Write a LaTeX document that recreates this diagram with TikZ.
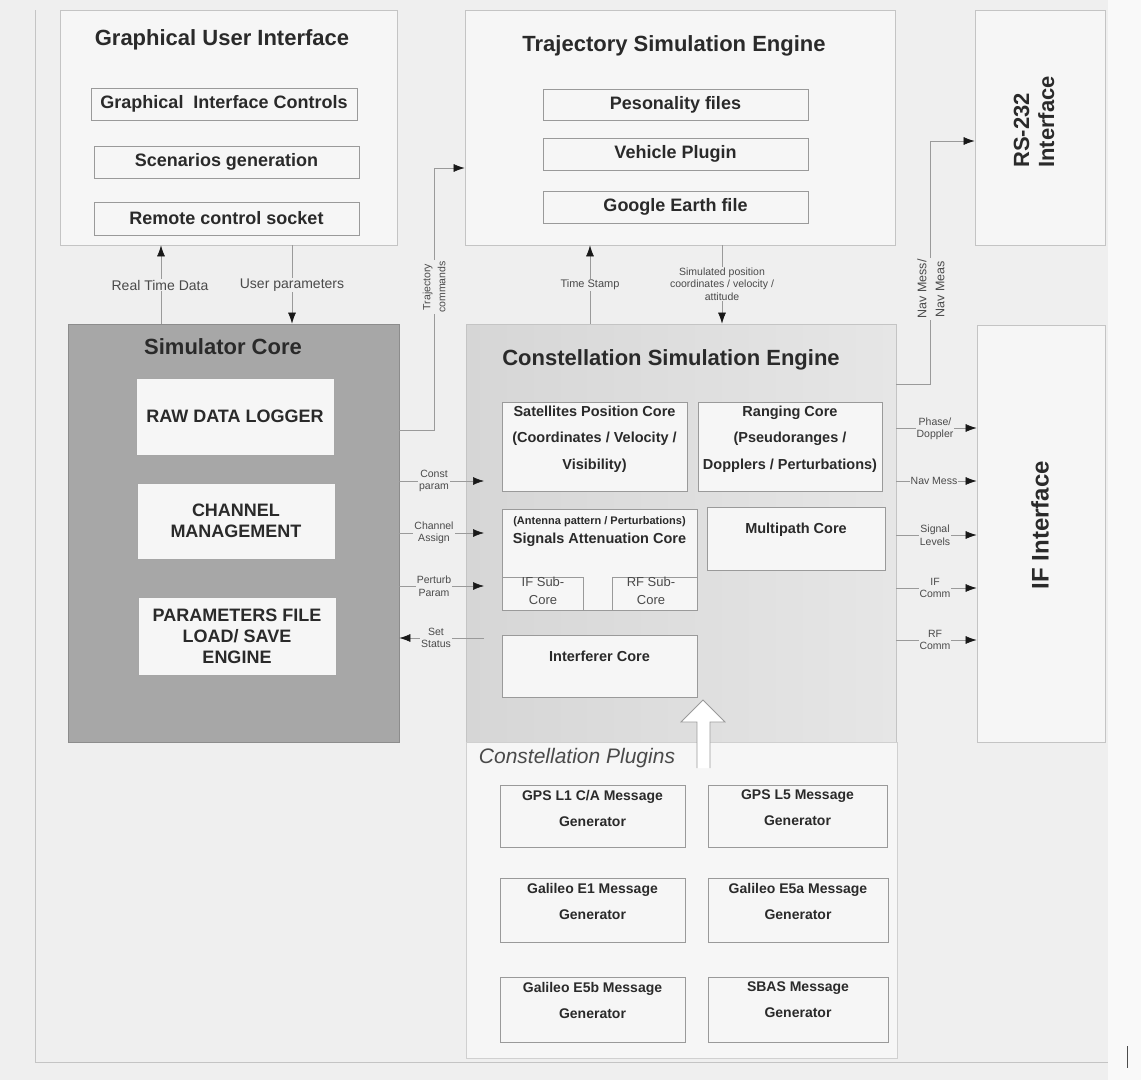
\documentclass[tikz,border=0pt]{standalone}
\usepackage{fontspec}
\setmainfont{Liberation Sans}
\usetikzlibrary{arrows.meta,calc}
\definecolor{bg}{HTML}{EFEFEF}
\definecolor{boxfill}{HTML}{F6F6F6}
\definecolor{boxline}{HTML}{C4C4C4}
\definecolor{inline}{HTML}{9A9A9A}
\definecolor{txt}{HTML}{2A2A2A}
\definecolor{lbltxt}{HTML}{4A4A4A}
\definecolor{coregray}{HTML}{A7A7A7}
\definecolor{cseL}{HTML}{D6D6D6}
\definecolor{cseR}{HTML}{E6E6E6}
\begin{document}
\begin{tikzpicture}[x=1pt,y=-1pt,
  outerbox/.style={draw=boxline, fill=boxfill, line width=0.8pt, inner sep=0pt},
  innerbox/.style={draw=inline, fill=boxfill, line width=0.7pt, inner sep=0pt},
  btxt/.style={inner sep=0pt, align=center, text=txt, font=\bfseries\fontsize{18}{21}\selectfont},
  title/.style={inner sep=0pt, text=txt, font=\bfseries\fontsize{22}{26}\selectfont},
  ctxt/.style={inner sep=0pt, align=center, text=txt, font=\bfseries\fontsize{14.5}{26.5}\selectfont},
  ptxt/.style={inner sep=0pt, align=center, text=txt, font=\bfseries\fontsize{14}{26}\selectfont},
  lbl/.style={fill=bg, inner sep=1pt, align=center, text=lbltxt, font=\fontsize{10.5}{12.5}\selectfont},
  conn/.style={draw=inline, line width=0.6pt, -{Latex[length=11pt,width=8pt,color=black!90]}},
  plain/.style={draw=inline, line width=0.6pt}
]
\useasboundingbox (0,0) rectangle (1141,1080);
\fill[bg] (0,0) rectangle (1141,1080);
\fill[white!60!bg] (1108,0) rectangle (1141,1080);
\draw[boxline, line width=0.8pt] (35,10) -- (35,1062) -- (1108,1062);
\draw[black!70, line width=0.6pt] (1127,1046) -- (1127,1068);

% ---------- Graphical User Interface ----------
\node[outerbox, minimum width=337pt, minimum height=235pt] (GUI) at (228.5,127.5) {};
\node[title] (GUIt) at (222,40) {Graphical User Interface};
\node[innerbox, minimum width=266pt, minimum height=32pt] (g1) at (224,104) {};
\node[btxt] (g1t) at (g1) {Graphical\ \ Interface Controls};
\node[innerbox, minimum width=265pt, minimum height=32pt] (g2) at (226.5,162) {};
\node[btxt] (g2t) at (g2) {Scenarios generation};
\node[innerbox, minimum width=265pt, minimum height=33pt] (g3) at (226.5,218.5) {};
\node[btxt] (g3t) at (g3) {Remote control socket};

% ---------- Trajectory Simulation Engine ----------
\node[outerbox, minimum width=430pt, minimum height=235pt] (TSE) at (680,127.5) {};
\node[title] (TSEt) at (674,46) {Trajectory Simulation Engine};
\node[innerbox, minimum width=265pt, minimum height=31pt] (t1) at (675.5,104.5) {};
\node[btxt] (t1t) at (t1) {Pesonality files};
\node[innerbox, minimum width=265pt, minimum height=32pt] (t2) at (675.5,154) {};
\node[btxt] (t2t) at (t2) {Vehicle Plugin};
\node[innerbox, minimum width=265pt, minimum height=32pt] (t3) at (675.5,207) {};
\node[btxt] (t3t) at (t3) {Google Earth file};

% ---------- RS-232 / IF Interface ----------
\node[outerbox, minimum width=130pt, minimum height=235pt] (RS) at (1040,127.5) {};
\node[inner sep=0pt, rotate=90, align=left, text=txt, font=\bfseries\fontsize{22}{25}\selectfont] (RSt) at (1034,122) {RS-232\\Interface};
\node[outerbox, minimum width=128pt, minimum height=417pt] (IF) at (1041,533.5) {};
\node[inner sep=0pt, rotate=90, text=txt, font=\bfseries\fontsize{24}{28}\selectfont] (IFt) at (1040,525) {IF Interface};

% ---------- Simulator Core ----------
\node[draw=black!45, fill=coregray, line width=0.8pt, inner sep=0pt, minimum width=331pt, minimum height=418pt] (SC) at (233.5,533) {};
\node[title] (SCt) at (223,347) {Simulator Core};
\node[draw=black!35, fill=boxfill, line width=0.7pt, minimum width=198pt, minimum height=77pt] (s1) at (235,416.5) {};
\node[btxt] (s1t) at (235,416) {RAW DATA LOGGER};
\node[draw=black!35, fill=boxfill, line width=0.7pt, minimum width=198pt, minimum height=76pt] (s2) at (236,521) {};
\node[btxt] (s2t) at (236,521) {CHANNEL\\MANAGEMENT};
\node[draw=black!35, fill=boxfill, line width=0.7pt, minimum width=198pt, minimum height=78pt] (s3) at (237,636) {};
\node[btxt] (s3t) at (237,636) {PARAMETERS FILE\\LOAD/ SAVE\\ENGINE};

% ---------- Constellation Simulation Engine ----------
\node[draw=boxline, left color=cseL, right color=cseR, line width=0.8pt, inner sep=0pt, minimum width=430pt, minimum height=418pt] (CSE) at (681,533) {};
\node[title] (CSEt) at (671,360) {Constellation Simulation Engine};
\node[innerbox, minimum width=185pt, minimum height=89pt] (c1) at (594.5,446.5) {};
\node[ctxt] (c1t) at (594.5,439) {Satellites Position Core\\(Coordinates / Velocity /\\Visibility)};
\node[innerbox, minimum width=184pt, minimum height=89pt] (c2) at (790,446.5) {};
\node[ctxt] (c2t) at (790,439) {Ranging Core\\(Pseudoranges /\\Dopplers / Perturbations)};
\node[innerbox, minimum width=195pt, minimum height=101pt] (c3) at (599.5,559.5) {};
\node[inner sep=0pt, text=txt, font=\bfseries\fontsize{11}{13}\selectfont] (c3a) at (599.5,522) {(Antenna pattern / Perturbations)};
\node[inner sep=0pt, text=txt, font=\bfseries\fontsize{14.5}{17}\selectfont] (c3b) at (599.5,540) {Signals Attenuation Core};
\node[innerbox, minimum width=81pt, minimum height=33pt] (ifs) at (542.5,593.5) {};
\node[inner sep=0pt, align=center, text=lbltxt, font=\fontsize{13}{18.5}\selectfont] (ifst) at (543,591) {IF Sub-\\Core};
\node[innerbox, minimum width=85pt, minimum height=33pt] (rfs) at (654.5,593.5) {};
\node[inner sep=0pt, align=center, text=lbltxt, font=\fontsize{13}{18.5}\selectfont] (rfst) at (651,591) {RF Sub-\\Core};
\node[innerbox, minimum width=178pt, minimum height=63pt] (c4) at (796,538.5) {};
\node[inner sep=0pt, text=txt, font=\bfseries\fontsize{14.5}{17}\selectfont] (c4t) at (796,530) {Multipath Core};
\node[innerbox, minimum width=195pt, minimum height=62pt] (c5) at (599.5,666) {};
\node[inner sep=0pt, text=txt, font=\bfseries\fontsize{14.5}{17}\selectfont] (c5t) at (599.5,656) {Interferer Core};

% ---------- Constellation Plugins ----------
\node[draw=boxline!80!white, fill=boxfill, line width=0.8pt, inner sep=0pt, minimum width=431pt, minimum height=316pt] (PL) at (681.5,900) {};
\node[inner sep=0pt, text=lbltxt, font=\itshape\fontsize{21}{24}\selectfont] (PLt) at (577,758) {Constellation Plugins};
\node[innerbox, minimum width=185pt, minimum height=62pt] (p1) at (592.5,816) {};
\node[ptxt] (p1t) at (592.5,808) {GPS L1 C/A Message\\Generator};
\node[innerbox, minimum width=179pt, minimum height=62pt] (p2) at (797.5,816) {};
\node[ptxt] (p2t) at (797.5,808) {GPS L5 Message\\Generator};
\node[innerbox, minimum width=185pt, minimum height=64pt] (p3) at (592.5,910) {};
\node[ptxt] (p3t) at (592.5,901) {Galileo E1 Message\\Generator};
\node[innerbox, minimum width=180pt, minimum height=64pt] (p4) at (798,910) {};
\node[ptxt] (p4t) at (798,901) {Galileo E5a Message\\Generator};
\node[innerbox, minimum width=185pt, minimum height=65pt] (p5) at (592.5,1009.5) {};
\node[ptxt] (p5t) at (592.5,1000) {Galileo E5b Message\\Generator};
\node[innerbox, minimum width=180pt, minimum height=65pt] (p6) at (798,1009.5) {};
\node[ptxt] (p6t) at (798,1000) {SBAS Message\\Generator};

% big hollow arrow from plugins into the engine
\filldraw[draw=inline, fill=white, line width=0.8pt] (697,768) -- (697,722) -- (681,722) -- (703,700) -- (725,722) -- (710,722) -- (710,768);

% ---------- connectors ----------
\coordinate (xRT) at (161,0);
\coordinate (xUP) at (292,0);
\coordinate (xTS) at (590,0);
\coordinate (xSP) at (722,0);
\draw[conn] (SC.north -| xRT) -- (GUI.south -| xRT);
\node[lbl, font=\fontsize{14}{16}\selectfont] (lRT) at (160,285) {Real Time Data};
\draw[conn] (GUI.south -| xUP) -- (SC.north -| xUP);
\node[lbl, font=\fontsize{14}{16}\selectfont] (lUP) at (292,285) {User parameters};
\draw[conn] (CSE.north -| xTS) -- (TSE.south -| xTS);
\node[lbl, font=\fontsize{11}{13}\selectfont] (lTS) at (590,285) {Time Stamp};
\draw[conn] (TSE.south -| xSP) -- (CSE.north -| xSP);
\node[lbl, font=\fontsize{10.5}{12.5}\selectfont] (lSP) at (722,284) {Simulated position\\coordinates / velocity /\\attitude};

% trajectory commands
\coordinate (tcA) at (434,430);
\coordinate (tcB) at (434,168);
\draw[conn] (SC.east |- tcA) -- (tcA) -- (tcB) -- (TSE.west |- tcB);
\node[lbl, rotate=90, font=\fontsize{10.5}{15}\selectfont] (lTC) at (434,287) {Trajectory\\commands};

% nav mess to RS-232
\coordinate (nvA) at (930,384);
\coordinate (nvB) at (930,141);
\draw[conn] (CSE.east |- nvA) -- (nvA) -- (nvB) -- (RS.west |- nvB);
\node[lbl, rotate=90, font=\fontsize{12.5}{18}\selectfont] (lNV) at (931,289) {Nav Mess/\\Nav Meas};

% engine -> IF interface
\coordinate (yPD) at (0,428);
\coordinate (yNM) at (0,481);
\coordinate (ySL) at (0,535);
\coordinate (yIC) at (0,588);
\coordinate (yRC) at (0,640);
\draw[conn] (CSE.east |- yPD) -- (IF.west |- yPD);
\node[lbl] (lPD) at (935,429) {Phase/\\Doppler};
\draw[conn] (CSE.east |- yNM) -- (IF.west |- yNM);
\node[lbl] (lNM) at (934,481) {Nav Mess};
\draw[conn] (CSE.east |- ySL) -- (IF.west |- ySL);
\node[lbl] (lSL) at (935,535) {Signal\\Levels};
\draw[conn] (CSE.east |- yIC) -- (IF.west |- yIC);
\node[lbl] (lIC) at (935,588) {IF\\Comm};
\draw[conn] (CSE.east |- yRC) -- (IF.west |- yRC);
\node[lbl] (lRC) at (935,640) {RF\\Comm};

% simulator core <-> engine
\coordinate (eCP) at (484,481);
\coordinate (eCA) at (484,533);
\coordinate (ePP) at (484,586);
\coordinate (eSS) at (484,638);
\draw[conn] (SC.east |- eCP) -- (eCP);
\node[lbl] (lCP) at (434,481) {Const\\param};
\draw[conn] (SC.east |- eCA) -- (eCA);
\node[lbl] (lCA) at (434,533) {Channel\\Assign};
\draw[conn] (SC.east |- ePP) -- (ePP);
\node[lbl] (lPP) at (434,586) {Perturb\\Param};
\draw[conn] (eSS) -- (SC.east |- eSS);
\node[lbl] (lSS) at (436,638) {Set\\Status};
\end{tikzpicture}
\end{document}
